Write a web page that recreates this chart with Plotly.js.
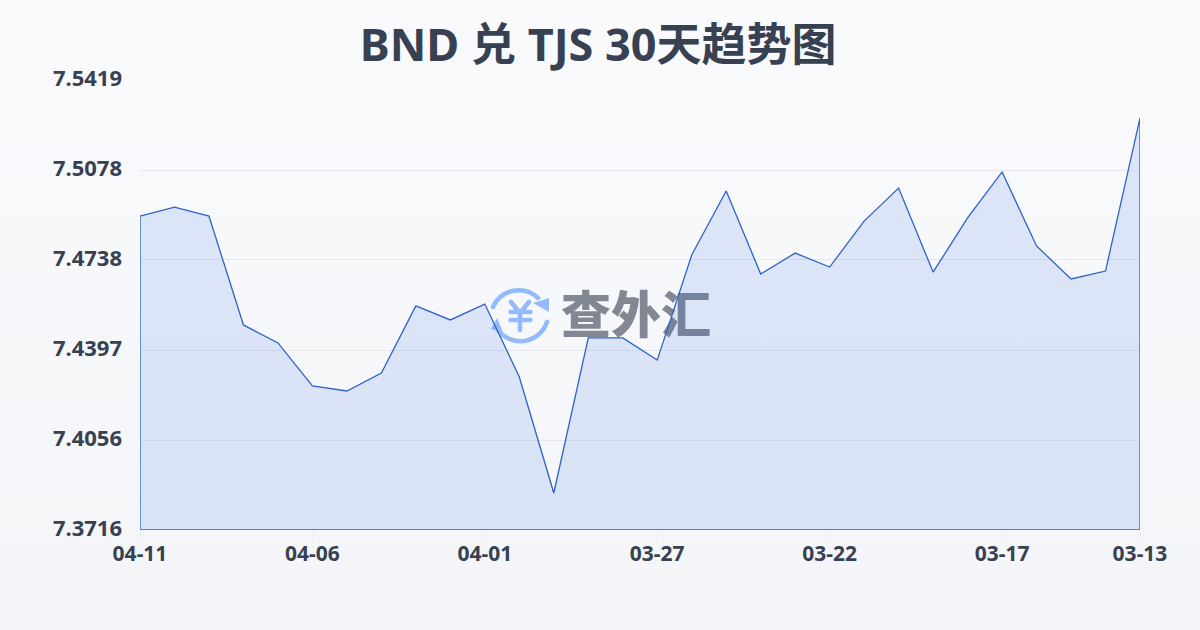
<!DOCTYPE html>
<html>
<head>
<meta charset="utf-8">
<script src="https://cdn.plot.ly/plotly-3.0.1.min.js"></script>
<style>
html,body{margin:0;padding:0;width:1200px;height:630px;overflow:hidden;background:linear-gradient(180deg,#f9fafc 0%,#f3f5f8 100%);}
#chart{width:1200px;height:630px;}
</style>
</head>
<body>
<div id="chart"></div>
<script>
const dates = ["04-11","04-10","04-09","04-08","04-07","04-06","04-05","04-04","04-03","04-02","04-01","03-31","03-30","03-29","03-28","03-27","03-26","03-25","03-24","03-23","03-22","03-21","03-20","03-19","03-18","03-17","03-16","03-15","03-14","03-13"];
const rates = [7.4904,7.4938,7.4904,7.4492,7.4424,7.4261,7.4242,7.4310,7.4564,7.4511,7.4571,7.4295,7.3856,7.4443,7.4443,7.4359,7.4757,7.4999,7.4685,7.4764,7.4711,7.4885,7.5010,7.4692,7.4897,7.5071,7.4791,7.4666,7.4696,7.5275];
const yTicks = [7.3716,7.4056,7.4397,7.4738,7.5078,7.5419];
const xTickLabels = ["04-11","04-06","04-01","03-27","03-22","03-17","03-13"];
const titleText = "BND 兑 TJS 30天趋势图";
const watermark = "查外汇";

const idx = dates.map((d,i)=>i);
const base = yTicks[0];
const last = dates.length-1;
const xs = [0].concat(idx,[last,0]);
const ys = [base].concat(rates,[base,base]);
const xTickVals = xTickLabels.map(l=>dates.indexOf(l));

const logo = `<svg xmlns="http://www.w3.org/2000/svg" viewBox="488 285 64 60" width="640" height="600"><g fill="none" stroke="#93bbfb" stroke-width="4.5" stroke-linecap="round" stroke-linejoin="round"><path d="M493 307A28 28 0 0 1 538 298"/><path d="M547 322A28 28 0 0 1 498 330"/><path d="M511 302L520 313L529 302M520 313V330M510.500 312H530.500M510.500 320H530.500"/></g><path fill="#93bbfb" d="M549 298L549 312L533 303Z M491 329L503 332L497 318Z"/></svg>`;

Plotly.newPlot("chart",[{
  x:[(636-140)/1000*last],y:[base+(530-320)/450*(yTicks[5]-base)],type:"scatter",mode:"text",text:[watermark],textposition:"middle center",
  textfont:{family:"'Noto Sans CJK SC',sans-serif",size:50,color:"rgba(85,92,108,0.72)",weight:900},hoverinfo:"skip",cliponaxis:false
},{
  x:xs,y:ys,type:"scatter",mode:"lines",fill:"toself",
  fillcolor:"rgba(37,99,235,0.13)",
  line:{color:"#2f62c6",width:1.3,shape:"linear"},
  hoverinfo:"skip",cliponaxis:false
}],{
  width:1200,height:630,
  paper_bgcolor:"rgba(0,0,0,0)",plot_bgcolor:"rgba(0,0,0,0)",
  margin:{l:140,r:60,t:80,b:100,pad:0},
  showlegend:false,
  title:{text:titleText,x:0.4985,xanchor:"center",y:0.928,yanchor:"middle",
    font:{family:"'Noto Sans','Noto Sans CJK SC',sans-serif",size:45,color:"#374151",weight:700}},
  xaxis:{type:"linear",range:[0,last],tickmode:"array",tickvals:xTickVals,ticktext:xTickLabels,
    showgrid:false,zeroline:false,showline:false,ticks:"outside",ticklen:10,tickwidth:1,tickcolor:"#eceee9",
    ticklabelstandoff:-5,
    tickfont:{family:"'Noto Sans',sans-serif",size:21,color:"#374151",weight:700}},
  yaxis:{range:[yTicks[0],yTicks[5]],tickmode:"array",tickvals:yTicks,ticktext:yTicks.map(v=>v.toFixed(4)),
    showgrid:true,gridcolor:"#e5e7eb",gridwidth:1,zeroline:false,showline:false,ticks:"",
    ticklabelstandoff:17,ticklabelshift:-2,
    tickfont:{family:"'Noto Sans',sans-serif",size:22,color:"#374151",weight:700}},
  images:[{source:"data:image/svg+xml;charset=utf-8,"+encodeURIComponent(logo),xref:"paper",yref:"paper",
    x:(488-140)/1000,y:1-(285-80)/450,sizex:64/1000,sizey:60/450,xanchor:"left",yanchor:"top",layer:"below",sizing:"stretch",opacity:1}]
},{displayModeBar:false,staticPlot:true});
</script>
</body>
</html>
